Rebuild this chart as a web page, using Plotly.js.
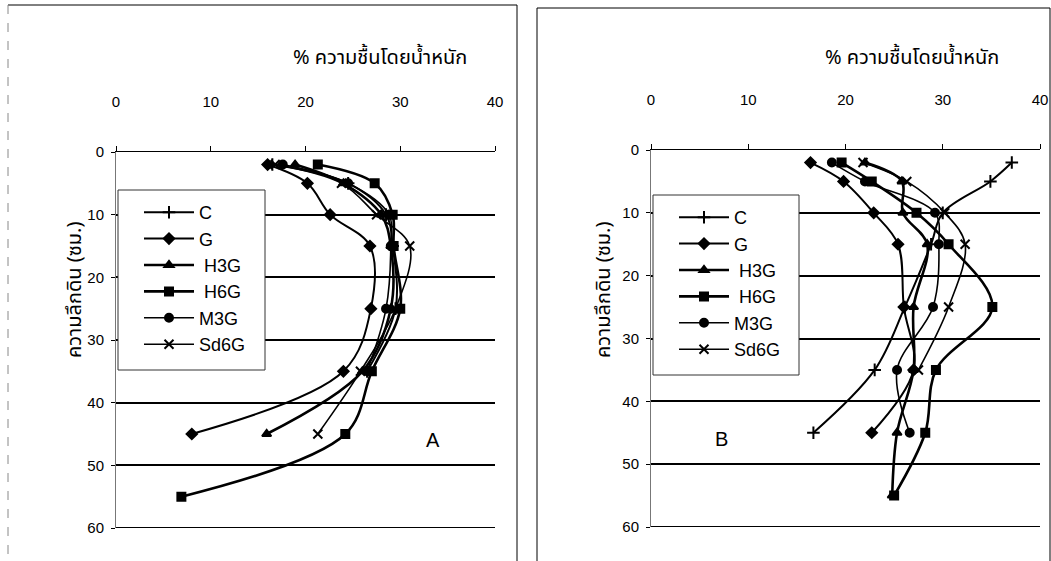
<!DOCTYPE html>
<html>
<head>
<meta charset="utf-8">
<script src="https://cdn.plot.ly/plotly-3.0.1.min.js"></script>
<style>html,body{margin:0;padding:0;background:#fff;}#chart{width:1051px;height:561px;}</style>
</head>
<body>
<div id="chart"></div>
<script>
// depths (cm)
const depthsA = [2, 5, 10, 15, 25, 35, 45, 55];
const depthsB = [2, 5, 10, 15, 25, 35, 45, 55];

// Panel A moisture (% by weight)
const A_C    = [16.5, 24.5, 28.5, 29.2, 29.5, 26.5];
const A_G    = [16.0, 20.2, 22.6, 26.8, 26.9, 24.0, 8.0];
const A_H3G  = [18.9, 24.0, 28.0, 29.0, 29.0, 26.0, 15.9];
const A_H6G  = [21.3, 27.3, 29.2, 29.3, 30.0, 27.0, 24.2, 6.9];
const A_M3G  = [17.6, 24.5, 28.8, 29.0, 28.5, 26.5];
const A_Sd6G = [16.8, 23.8, 27.5, 31.0, 29.5, 25.8, 21.3];

// Panel B moisture (% by weight)
const B_C    = [37.1, 34.9, 30.0, 28.8, 26.1, 23.0, 16.7];
const B_G    = [16.4, 19.8, 22.9, 25.4, 26.0, 27.0, 22.7];
const B_H3G  = [22.0, 25.8, 25.9, 28.4, 27.0, 27.0, 25.3, 24.8];
const B_H6G  = [19.6, 22.7, 27.3, 30.6, 35.1, 29.3, 28.2, 25.0];
const B_M3G  = [18.6, 22.0, 29.2, 29.6, 29.0, 25.3, 26.6];
const B_Sd6G = [21.8, 26.3, 30.2, 32.3, 30.6, 27.5];

const seriesNames = ["C", "G", "H3G", "H6G", "M3G", "Sd6G"];
const tickVals = [0, 10, 20, 30, 40];
const depthTicks = [0, 10, 20, 30, 40, 50, 60];
const xTitle = "% ความชื้นโดยน้ำหนัก";
const yTitle = "ความลึกดิน (ซม.)";

const styles = {
  "C":    {symbol: "cross-thin", size: 9, w: 2},
  "G":    {symbol: "diamond", size: 8, w: 2},
  "H3G":  {symbol: "triangle-up", size: 8, w: 2.6},
  "H6G":  {symbol: "square", size: 8, w: 2.6},
  "M3G":  {symbol: "circle", size: 8, w: 1.6},
  "Sd6G": {symbol: "x-thin", size: 9, w: 1.6}
};

function mk(name, xs, depths, xa, ya, lg) {
  const s = styles[name];
  return {
    type: "scatter", mode: "lines+markers", name: (name === "H3G" || name === "H6G") ? " " + name : name,
    x: xs, y: depths.slice(0, xs.length), xaxis: xa, yaxis: ya, legend: lg,
    line: {color: "#000", width: s.w, shape: "spline", smoothing: 1},
    marker: {symbol: s.symbol, size: s.size, color: "#000", line: {color: "#000", width: 2}}
  };
}

const dataA = [A_C, A_G, A_H3G, A_H6G, A_M3G, A_Sd6G];
const dataB = [B_C, B_G, B_H3G, B_H6G, B_M3G, B_Sd6G];
const traces = [];
seriesNames.forEach((n, i) => traces.push(mk(n, dataA[i], depthsA, "x", "y", "legend")));
seriesNames.forEach((n, i) => traces.push(mk(n, dataB[i], depthsB, "x2", "y2", "legend2")));

const W = 1051, H = 561;
const px = v => v / W, py = v => 1 - v / H;
const tickFont = {family: "Liberation Sans Narrow, Liberation Sans, Arial, sans-serif", size: 15, color: "#000"};
const thaiFont = {family: "Noto Sans Thai, Noto Sans, DejaVu Sans, sans-serif", size: 20, color: "#000"};

function xaxis(domain) {
  return {domain: domain, range: [0, 40], side: "top", tickvals: tickVals,
    ticks: "outside", ticklen: 5, tickcolor: "#000", showline: true, linecolor: "#000", linewidth: 1.5,
    showgrid: false, zeroline: false, tickfont: tickFont, ticklabelstandoff: 33, fixedrange: true};
}
function yaxis(domain) {
  return {domain: domain, range: [60, 0], tickvals: depthTicks, ticks: "outside", ticklen: 4,
    tickcolor: "#000", showline: true, linecolor: "#777", linewidth: 1, showgrid: true,
    gridcolor: "#000", gridwidth: 2, zeroline: false, tickfont: tickFont, ticklabelstandoff: 4, fixedrange: true};
}

const xa1 = xaxis([px(116), px(495)]); xa1.anchor = "y";
const xa2 = xaxis([px(651), px(1040)]); xa2.anchor = "y2";
const ya1 = yaxis([py(528), py(152)]); ya1.anchor = "x";
const ya2 = yaxis([py(527), py(150)]); ya2.anchor = "x2";

const legendBase = {bgcolor: "rgba(0,0,0,0)", borderwidth: 0, xanchor: "left", yanchor: "top",
  font: {family: "Liberation Sans, Arial, sans-serif", size: 18, color: "#000"}, itemwidth: 50, tracegroupgap: 0};

const layout = {
  width: W, height: H, margin: {l: 0, r: 0, t: 0, b: 0}, paper_bgcolor: "#fff", plot_bgcolor: "#fff",
  showlegend: true,
  xaxis: xa1, yaxis: ya1, xaxis2: xa2, yaxis2: ya2,
  legend: Object.assign({}, legendBase, {x: px(139), y: py(194)}),
  legend2: Object.assign({}, legendBase, {x: px(674), y: py(199)}),
  annotations: [
    {text: xTitle, xref: "paper", yref: "paper", x: px(380), y: py(58), xanchor: "center", yanchor: "middle", showarrow: false, font: thaiFont},
    {text: xTitle, xref: "paper", yref: "paper", x: px(912), y: py(58), xanchor: "center", yanchor: "middle", showarrow: false, font: thaiFont},
    {text: yTitle, xref: "paper", yref: "paper", x: px(75), y: py(290), xanchor: "center", yanchor: "middle", showarrow: false, textangle: -90, font: thaiFont},
    {text: yTitle, xref: "paper", yref: "paper", x: px(604), y: py(290), xanchor: "center", yanchor: "middle", showarrow: false, textangle: -90, font: thaiFont},
    {text: "A", xref: "x", yref: "y", x: 33.5, y: 46, showarrow: false, font: {family: "Liberation Sans, Arial", size: 20, color: "#000"}},
    {text: "B", xref: "x2", yref: "y2", x: 7.2, y: 46, showarrow: false, font: {family: "Liberation Sans, Arial", size: 20, color: "#000"}}
  ],
  shapes: [
    {type: "line", xref: "paper", yref: "paper", x0: px(8), x1: px(517), y0: py(5), y1: py(5), line: {color: "#000", width: 1}},
    {type: "line", xref: "paper", yref: "paper", x0: px(517), x1: px(517), y0: py(5), y1: 0, line: {color: "#000", width: 1}},
    {type: "line", xref: "paper", yref: "paper", x0: px(8), x1: px(8), y0: py(5), y1: 0, line: {color: "#888", width: 1, dash: "dash"}},
    {type: "line", xref: "paper", yref: "paper", x0: px(537), x1: px(1050), y0: py(8), y1: py(8), line: {color: "#000", width: 1}},
    {type: "line", xref: "paper", yref: "paper", x0: px(537), x1: px(537), y0: py(8), y1: 0, line: {color: "#000", width: 1}},
    {type: "line", xref: "paper", yref: "paper", x0: px(1050), x1: px(1050), y0: py(8), y1: 0, line: {color: "#000", width: 1}},
    // bottom gridlines at depth 60
    {type: "line", xref: "x domain", yref: "y", x0: 0, x1: 1, y0: 60, y1: 60, layer: "below", line: {color: "#000", width: 2}},
    {type: "line", xref: "x2 domain", yref: "y2", x0: 0, x1: 1, y0: 60, y1: 60, layer: "below", line: {color: "#000", width: 2}},
    // legend boxes
    {type: "rect", xref: "paper", yref: "paper", layer: "above", x0: px(118), x1: px(265), y0: py(190), y1: py(370), fillcolor: "#fff", line: {color: "#333", width: 1}},
    {type: "rect", xref: "paper", yref: "paper", layer: "above", x0: px(653), x1: px(799), y0: py(195), y1: py(375), fillcolor: "#fff", line: {color: "#333", width: 1}}
  ]
};

Plotly.newPlot("chart", traces, layout, {staticPlot: true, displayModeBar: false});
</script>
</body>
</html>
